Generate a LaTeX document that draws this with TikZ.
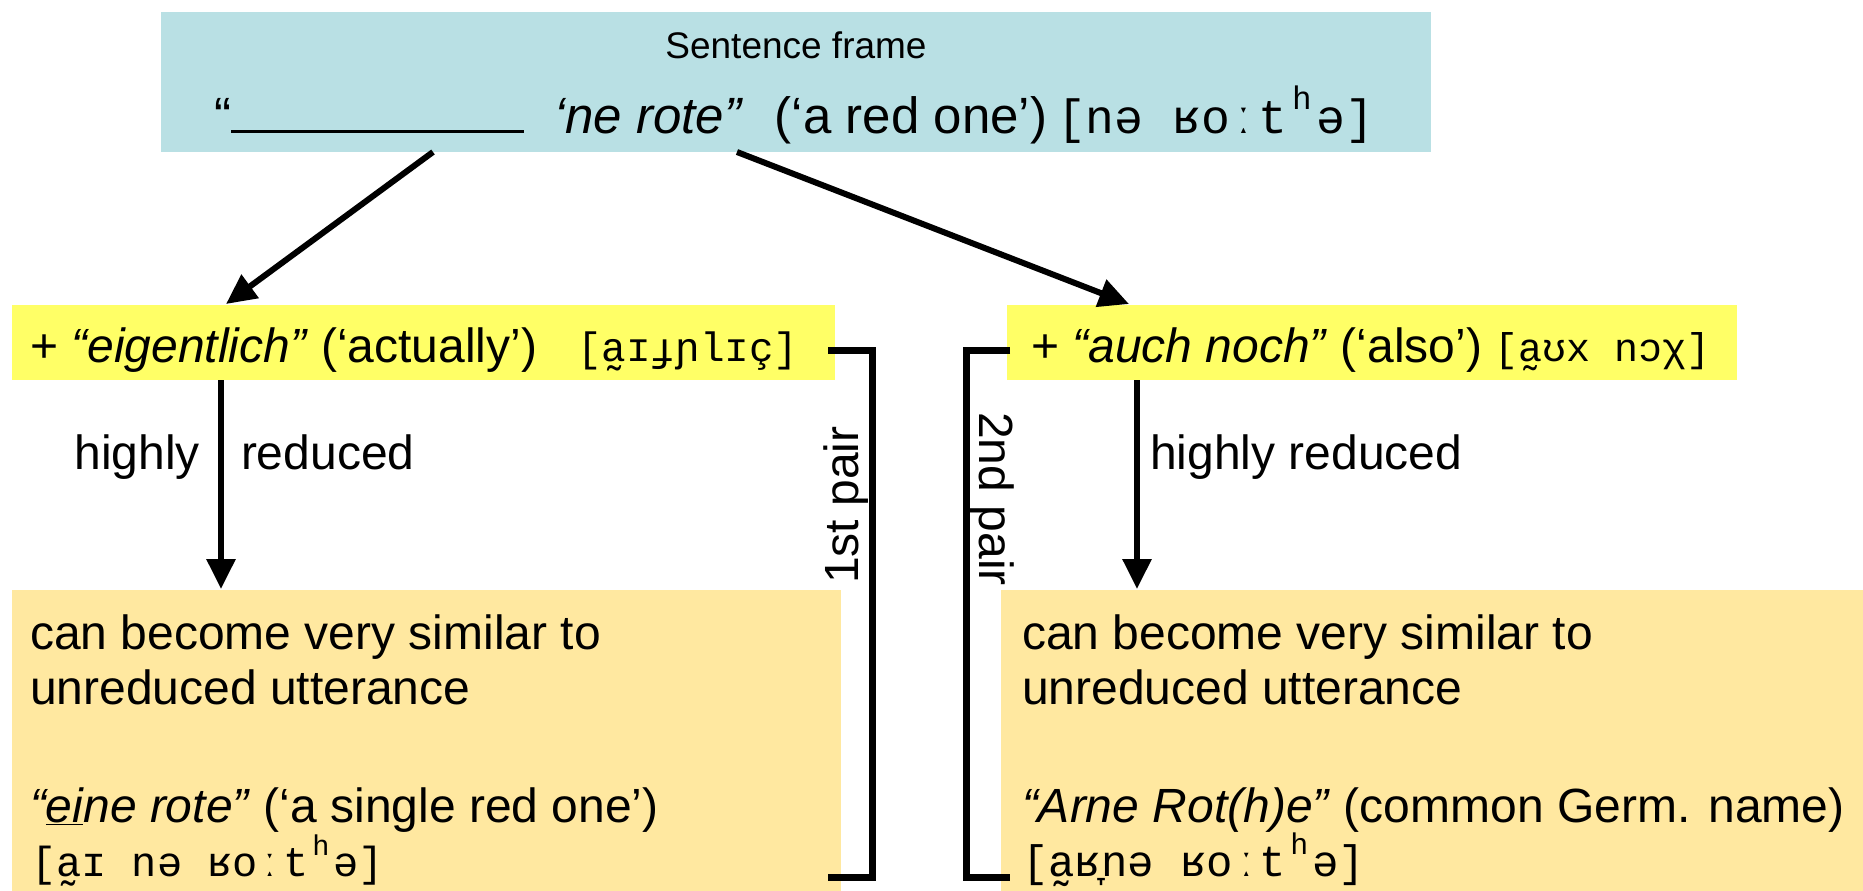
\documentclass[tikz,border=0pt]{standalone}
\usepackage{fontspec}
\usepackage{graphicx}
\setmainfont{Liberation Sans}
\newfontfamily\ipafont{Liberation Mono}
\usetikzlibrary{arrows.meta}
\definecolor{topblue}{RGB}{185,224,228}
\definecolor{hiyellow}{RGB}{255,255,102}
\definecolor{paleorange}{RGB}{255,232,160}
\newcommand{\bigtxt}{\fontsize{48}{56}\selectfont}
\newcommand{\toptxt}{\fontsize{51}{58}\selectfont}
\newcommand{\ipasize}[1]{\ipafont\fontsize{#1}{#1}\selectfont}
\newcommand{\asp}{\makebox[0.6em][c]{\raisebox{0.5em}{\scalebox{0.68}{h}}}}
\begin{document}
\begin{tikzpicture}[x=1pt,y=-1pt,
  boxshape/.style={inner sep=0pt, outer sep=0pt, anchor=north west},
  txt/.style={inner sep=0pt, outer sep=0pt, anchor=base west},
  conn/.style={line width=6pt, -{Triangle[length=30pt,width=28pt]}},
  brk/.style={line width=7pt}]
\useasboundingbox (0,0) rectangle (1863,891);
% boxes
\node[boxshape, fill=topblue, minimum width=1270pt, minimum height=140pt] (frame) at (161,12) {};
\node[boxshape, fill=hiyellow, minimum width=823pt, minimum height=75pt] (yl) at (12,305) {};
\node[boxshape, fill=hiyellow, minimum width=730pt, minimum height=75pt] (yr) at (1007,305) {};
\node[boxshape, fill=paleorange, minimum width=829pt, minimum height=301pt] (ol) at (12,590) {};
\node[boxshape, fill=paleorange, minimum width=862pt, minimum height=301pt] (or) at (1001,590) {};
% top texts
\node[inner sep=0pt, anchor=base] (sf) at (796,59) {\fontsize{37}{40}\selectfont Sentence frame};
\node[inner sep=0pt, anchor=base] (fl) at (794,133) {\toptxt “\rule{293pt}{3pt}\hspace{30pt}\textit{‘ne rote”}\hspace{32pt}(‘a red one’)\hspace{10pt}{\ipasize{48}[nə ʁoːt\asp ə]}};
% yellow texts
\node[txt] (ylt) at (30,362) {\bigtxt + \textit{“eigentlich”} (‘actually’)};
\node[txt] (yli) at (577,361) {\ipasize{41}[a̰ɪɟɲlɪç]};
\node[txt] (yrt) at (1031,362) {\bigtxt + \textit{“auch noch”} (‘also’)};
\node[txt] (yri) at (1494,361) {\ipasize{40}[a̰ʊx nɔχ]};
% bottom-left texts
\node[txt] (ol1) at (30,649) {\bigtxt can become very similar to};
\node[txt] (ol2) at (30,704) {\bigtxt unreduced utterance};
\node[txt] (ol3) at (30,822) {\bigtxt \textit{“\underline{ei}ne rote”} (‘a single red one’)};
\node[txt] (ol4) at (31,876) {\ipasize{42}[a̰ɪ nə ʁoːt\asp ə]};
% bottom-right texts
\node[txt] (or1) at (1022,649) {\bigtxt can become very similar to};
\node[txt] (or2) at (1022,704) {\bigtxt unreduced utterance};
\node[txt] (or3) at (1022,822) {\bigtxt \textit{“Arne Rot(h)e”} (common Germ. name)};
\node[txt] (or4) at (1022,876) {\ipasize{44}[a̰ʁ̞nə ʁoːt\asp ə]};
% arrow labels
\node[inner sep=0pt, anchor=base east] (hl) at (200,469) {\bigtxt highly};
\node[txt] (rl) at (241,469) {\bigtxt reduced};
\node[txt] (hr) at (1150,469) {\bigtxt highly reduced};
% pair labels
\node[inner sep=0pt, rotate=90] (p1) at (846,505) {\bigtxt 1st pair};
\node[inner sep=0pt, rotate=-90] (p2) at (992,499) {\bigtxt 2nd pair};
% connector endpoints
\coordinate (fL) at (433,152);
\coordinate (fR) at (737,152);
\coordinate (ylIn) at (226,304);
\coordinate (yrIn) at (1129,304);
\coordinate (ylOut) at (221,380);
\coordinate (olIn) at (221,589);
\coordinate (yrOut) at (1137,380);
\coordinate (orIn) at (1137,589);
\draw[conn] (fL) -- (ylIn);
\draw[conn] (fR) -- (yrIn);
\draw[conn] (ylOut) -- (olIn);
\draw[conn] (yrOut) -- (orIn);
% brackets
\coordinate (b1a) at (828,350);
\coordinate (b1b) at (828,877);
\coordinate (b2a) at (1010,350);
\coordinate (b2b) at (1010,877);
\draw[brk] (b1a) -- (872,350) -- (872,877) -- (b1b);
\draw[brk] (b2a) -- (966,350) -- (966,877) -- (b2b);
\end{tikzpicture}
\end{document}
